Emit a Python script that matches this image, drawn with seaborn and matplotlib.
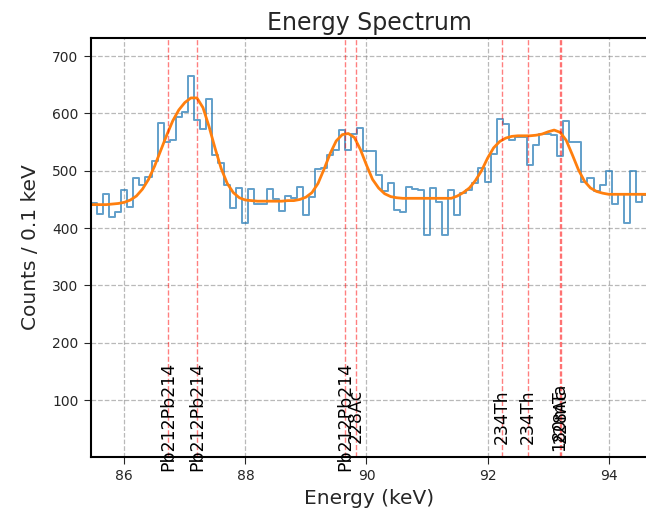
import numpy as np
import pandas as pd
import matplotlib
matplotlib.use("Agg")
import matplotlib.pyplot as plt
import seaborn as sns

# ---- data ----
bin_width = 0.1
first_center = 85.5
counts = [444, 424, 460, 420, 428, 467, 436, 487, 476, 489,
          517, 584, 551, 554, 593, 603, 665, 588, 572, 626,
          528, 513, 476, 435, 470, 409, 469, 442, 442, 469,
          450, 430, 456, 452, 472, 423, 455, 503, 504, 528,
          536, 571, 536, 565, 574, 534, 534, 493, 464, 478,
          432, 429, 471, 468, 466, 388, 470, 446, 388, 467,
          423, 462, 467, 478, 505, 481, 530, 591, 581, 554,
          559, 559, 510, 545, 565, 565, 562, 525, 587, 551,
          550, 481, 487, 464, 475, 500, 442, 459, 409, 500,
          446, 458]

fit_start = 85.4
fit_values = [441, 441, 441, 441, 442, 443, 445, 449, 456, 468,
              485, 508, 535, 562, 587, 606, 619, 627, 627, 610,
              577, 539, 504, 478, 462, 453, 449, 448, 447, 447,
              447, 447, 447, 448, 448, 450, 454, 462, 478, 503,
              530, 552, 563, 565, 558, 537, 510, 485, 470, 460,
              455, 453, 452, 452, 452, 452, 452, 452, 452, 452,
              452, 456, 462, 470, 483, 500, 522, 540, 551, 557,
              560, 561, 561, 561, 562, 564, 568, 571, 567, 553,
              528, 502, 482, 470, 464, 461, 459, 459, 459, 459,
              459, 459, 459, 459]

line_energies = [86.72, 87.20, 89.65, 89.82, 92.24, 92.67, 93.19, 93.21]
line_labels = ["Pb212Pb214", "Pb212Pb214", "Pb212Pb214", "228Ac",
               "234Th", "234Th", "180mTa", "228Ac"]

centers = np.round(first_center + bin_width * np.arange(len(counts)), 2)
edges = [round(float(c - bin_width / 2), 3) for c in centers]
edges.append(round(float(centers[-1] + bin_width / 2), 3))
fit_x = np.round(fit_start + bin_width * np.arange(len(fit_values)), 2)

hist_df = pd.DataFrame({"energy": centers, "counts": counts})
fit_df = pd.DataFrame({"energy": fit_x, "fit": fit_values})

# ---- plot ----
sns.set_style("ticks")
fig = plt.figure(figsize=(6.46, 5.15), dpi=100)
ax = fig.add_axes([91 / 646, 58 / 515, 557 / 646, 419 / 515])

sns.histplot(data=hist_df, x="energy", weights="counts", bins=edges,
             element="step", fill=False, color="#1f77b4", alpha=0.7,
             linewidth=1.4, ax=ax)
sns.lineplot(data=fit_df, x="energy", y="fit", color="#ff7f0e",
             linewidth=2, ax=ax)

ymax = max(counts) * 1.1
for e, lab in zip(line_energies, line_labels):
    ax.axvline(e, color="red", linestyle="--", alpha=0.5, linewidth=1)
    ax.text(e, 72, lab, rotation=90, ha="center", va="center",
            fontsize=12.5, color="black")

ax.set_xlim(85.45, 94.65)
ax.set_ylim(1, ymax)
ax.set_xticks([86, 88, 90, 92, 94])
ax.set_yticks([100, 200, 300, 400, 500, 600, 700])
ax.grid(True, linestyle="--", color="gray", alpha=0.55, linewidth=0.9)
ax.tick_params(labelsize=10, length=5, pad=4)
for s in ax.spines.values():
    s.set_linewidth(1.5)
    s.set_color("black")
ax.set_xlabel("Energy (keV)", fontsize=14.5, labelpad=4)
ax.set_ylabel("Counts / 0.1 keV", fontsize=14.5, labelpad=9)
ax.set_title("Energy Spectrum", fontsize=17)

fig.savefig("out.png", dpi=100)
